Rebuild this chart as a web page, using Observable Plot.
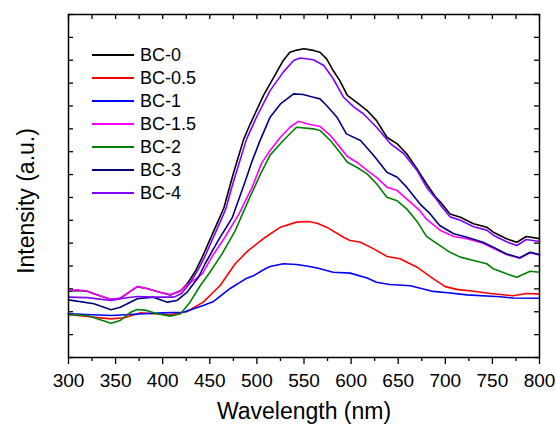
<!DOCTYPE html>
<html><head><meta charset="utf-8">
<script src="https://cdn.jsdelivr.net/npm/d3@7"></script>
<script src="https://cdn.jsdelivr.net/npm/@observablehq/plot@0.6"></script>
<style>
body{margin:0;background:#fff;}
#wrap{position:relative;width:556px;height:426px;font-family:"Liberation Sans",Arial,sans-serif;}
#legend{position:absolute;left:92px;top:43.5px;font-size:18px;color:#000;}
.row{display:flex;align-items:center;height:23px;white-space:nowrap}
.sw{width:42px;height:0;border-top:2px solid;margin-right:6px}
</style></head><body><div id="wrap"><div id="chart"></div><div id="legend"></div></div>
<script>
const names = ["BC-0","BC-0.5","BC-1","BC-1.5","BC-2","BC-3","BC-4"];
const colors = ["#000000","#ff0000","#0000ff","#ff00ff","#008000","#000080","#8000ff"];
const majorTicks = [300,350,400,450,500,550,600,650,700,750,800];
const minorTicks = [325,375,425,475,525,575,625,675,725,775];
const yTicks = [0,1,2,3,4,5,6,7,8,9,10,11,12,13,14,15];
const xLabel = "Wavelength (nm)";
const yLabel = "Intensity (a.u.)";

const bc0 = [[300,2.90],[309,2.93],[320,2.90],[327,2.79],[345,2.54],[355,2.59],[373,3.10],[383,3.02],[397,2.85],[408,2.73],[419,2.92],[426,3.22],[435,3.80],[442,4.39],[456,5.70],[465,6.55],[470,7.30],[475,8.05],[486,9.55],[493,10.22],[507,11.46],[518,12.26],[528,12.99],[535,13.35],[541,13.43],[550,13.50],[560,13.43],[567,13.35],[574,13.06],[581,12.55],[588,12.11],[596,11.46],[606,11.16],[617,10.80],[627,10.36],[638,9.63],[649,9.34],[659,8.91],[670,8.25],[680,7.60],[690,7.00],[695,6.79],[705,6.28],[716,6.13],[730,5.85],[744,5.70],[751,5.48],[765,5.19],[776,5.04],[786,5.29],[800,5.20]];
const bc05 = [[300,1.88],[320,1.79],[345,1.69],[359,1.74],[376,1.95],[392,1.91],[408,1.87],[426,2.01],[443,2.42],[461,3.15],[467,3.51],[477,4.10],[490,4.65],[509,5.26],[525,5.70],[542,5.92],[555,5.95],[564,5.87],[574,5.70],[592,5.26],[599,5.12],[610,5.04],[624,4.75],[638,4.42],[652,4.32],[670,3.95],[687,3.45],[700,3.10],[712,2.98],[730,2.90],[748,2.80],[772,2.70],[786,2.80],[800,2.77]];
const bc1 = [[300,1.91],[345,1.84],[380,1.91],[400,1.95],[422,1.98],[443,2.27],[454,2.45],[472,3.03],[488,3.44],[497,3.59],[509,3.88],[514,3.98],[528,4.10],[542,4.07],[556,3.98],[564,3.91],[581,3.73],[599,3.69],[617,3.48],[627,3.29],[641,3.19],[663,3.14],[687,2.89],[700,2.84],[723,2.74],[758,2.66],[772,2.60],[800,2.59]];
const bc15 = [[300,2.93],[309,2.96],[320,2.90],[327,2.79],[345,2.55],[355,2.59],[373,3.10],[383,3.02],[397,2.85],[408,2.75],[419,2.90],[426,3.19],[433,3.37],[442,3.66],[452,4.39],[466,5.26],[481,6.28],[495,7.45],[505,8.50],[514,9.05],[525,9.63],[535,10.07],[544,10.33],[553,10.22],[567,10.10],[578,9.71],[588,9.20],[596,8.79],[606,8.54],[617,8.18],[627,7.88],[638,7.45],[649,7.30],[659,6.94],[673,6.42],[680,6.05],[695,5.55],[709,5.29],[723,5.19],[740,5.00],[751,4.78],[765,4.50],[779,4.34],[790,4.58],[800,4.48]];
const bc2 = [[300,1.88],[320,1.84],[345,1.50],[355,1.62],[366,1.98],[373,2.10],[383,2.06],[394,1.91],[408,1.81],[419,1.91],[429,2.42],[440,3.15],[449,3.66],[463,4.53],[477,5.55],[491,6.87],[503,7.95],[514,8.85],[528,9.49],[542,10.07],[560,10.00],[567,9.93],[578,9.49],[588,8.98],[596,8.54],[606,8.32],[617,8.03],[627,7.60],[638,7.01],[649,6.85],[659,6.50],[670,5.95],[680,5.30],[694,4.90],[705,4.60],[716,4.39],[730,4.24],[744,4.10],[751,3.88],[765,3.66],[776,3.51],[790,3.77],[800,3.73]];
const bc3 = [[300,2.52],[327,2.35],[345,2.09],[355,2.20],[373,2.57],[390,2.64],[405,2.42],[415,2.49],[426,2.86],[438,3.51],[445,4.10],[459,5.12],[474,6.13],[488,7.75],[495,8.60],[503,9.45],[514,10.51],[525,11.09],[539,11.53],[549,11.50],[560,11.38],[567,11.31],[574,11.02],[585,10.51],[595,9.78],[610,9.49],[624,8.83],[638,8.10],[649,7.88],[659,7.45],[673,6.72],[684,6.28],[694,5.77],[709,5.41],[723,5.26],[740,5.04],[751,4.82],[765,4.53],[779,4.36],[790,4.60],[800,4.50]];
const bc4 = [[300,2.64],[320,2.62],[345,2.49],[360,2.60],[373,2.67],[390,2.64],[412,2.64],[420,2.80],[428,3.20],[437,3.80],[444,4.35],[458,5.65],[467,6.50],[472,7.25],[477,7.95],[489,9.55],[500,10.55],[514,11.67],[528,12.48],[539,12.99],[546,13.10],[560,13.02],[571,12.77],[581,12.19],[592,11.38],[603,10.95],[613,10.66],[627,10.07],[642,9.34],[656,8.91],[670,8.18],[680,7.45],[691,6.90],[695,6.66],[705,6.15],[716,6.00],[730,5.72],[744,5.57],[751,5.35],[765,5.06],[776,4.90],[786,5.16],[800,5.07]];

const seriesData = [bc0, bc05, bc1, bc15, bc2, bc3, bc4];

const mL = 68, mR = 17, mT = 14, mB = 69;
const fw = 556 - mL - mR, fh = 426 - mT - mB;

const lines = seriesData.map((d, i) =>
  Plot.line(d, {x: p => p[0], y: p => p[1], stroke: colors[i], strokeWidth: 1.6}));

const chart = Plot.plot({
  width: 556, height: 426,
  marginLeft: mL, marginRight: mR, marginTop: mT, marginBottom: mB,
  x: {domain: [300, 800]},
  y: {domain: [0, 15], axis: null},
  style: {fontFamily: "'Liberation Sans', Arial, sans-serif", background: "white", color: "black"},
  marks: [
    ...lines,
    Plot.axisX({ticks: majorTicks, tickSize: 7, tickPadding: 9, fontSize: 19, label: null, strokeWidth: 1.3}),
    Plot.axisX({ticks: minorTicks, tickSize: 4, tickFormat: () => "", label: null, strokeWidth: 1.3}),
    Plot.tickX(majorTicks.concat(minorTicks), {x: d => d, insetBottom: fh - 5, strokeWidth: 1.3}),
    Plot.tickY(yTicks, {y: d => d, insetRight: fw - 5, strokeWidth: 1.3}),
    Plot.tickY(yTicks, {y: d => d, insetLeft: fw - 5, strokeWidth: 1.3}),
    Plot.frame({stroke: "black", strokeWidth: 1.5}),
    Plot.text([xLabel], {frameAnchor: "bottom", textAnchor: "middle", dy: 61, fontSize: 23, text: d => d}),
    Plot.text([yLabel], {frameAnchor: "left", textAnchor: "middle", rotate: -90, dx: -42, dy: 15, fontSize: 23, text: d => d})
  ]
});
document.getElementById("chart").appendChild(chart);

const legend = document.getElementById("legend");
names.forEach((n, i) => {
  const row = document.createElement("div");
  row.className = "row";
  const sw = document.createElement("div");
  sw.className = "sw";
  sw.style.borderTopColor = colors[i];
  const t = document.createElement("span");
  t.textContent = n;
  row.appendChild(sw); row.appendChild(t);
  legend.appendChild(row);
});
</script>
</body></html>
